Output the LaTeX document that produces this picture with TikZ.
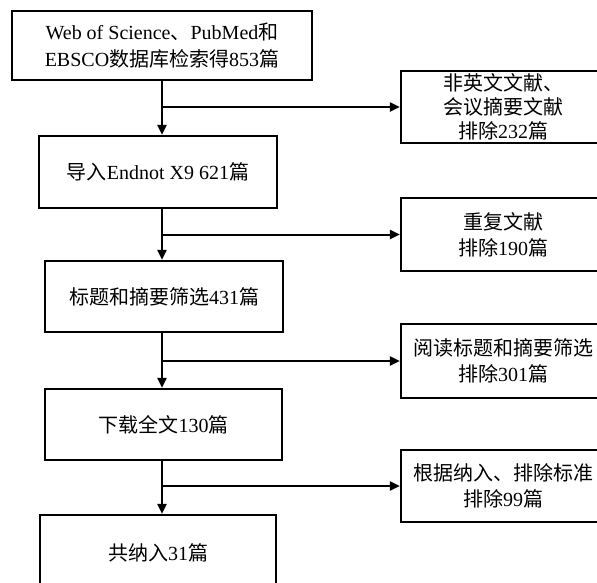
\documentclass[tikz,border=0pt]{standalone}
\usepackage{fontspec}
\setmainfont{Liberation Serif}
\newfontfamily\cjk{Noto Sans CJK SC}
\newcommand{\zh}[1]{{\cjk #1}}
\usetikzlibrary{shapes,arrows.meta,positioning,calc}
\tikzset{
	stepbox/.style={draw, line width=2.2pt, align=center, inner sep=0pt, font=\fontsize{20}{26}\selectfont},
	sidebox/.style={stepbox, minimum width=204pt},
	flow/.style={line width=2pt, -{Triangle[length=10pt,width=9pt]}}
}

\begin{document}
\begin{tikzpicture}[x=1pt,y=-1pt]
	\path[use as bounding box, clip] (0,0) rectangle (597,582);
	\coordinate (axis) at (162,0);
	\node[stepbox, minimum width=300pt, minimum height=69pt, font=\fontsize{20}{27}\selectfont] (search) at (162,45.5) {Web of Science\zh{、}PubMed\zh{和}\\EBSCO\zh{数据库检索得}853\zh{篇}};
	\node[stepbox, minimum width=238pt, minimum height=72pt] (endnote) at (158,172) {\zh{导入}Endnot X9 621\zh{篇}};
	\node[stepbox, minimum width=238pt, minimum height=71pt] (screen) at (164,296.5) {\zh{标题和摘要筛选}431\zh{篇}};
	\node[stepbox, minimum width=237pt, minimum height=71pt] (fulltext) at (163.5,424.5) {\zh{下载全文}130\zh{篇}};
	\node[stepbox, minimum width=236pt, minimum height=75pt] (included) at (158,552.5) {\zh{共纳入}31\zh{篇}};
	\node[sidebox, minimum height=72pt, font=\fontsize{20}{24}\selectfont] (nonen) at (503,107) {\zh{非英文文献、}\\\zh{会议摘要文献}\\\zh{排除}232\zh{篇}};
	\node[sidebox, minimum height=73pt] (dup) at (503,234.5) {\zh{重复文献}\\\zh{排除}190\zh{篇}};
	\node[sidebox, minimum height=74pt] (title) at (503,361) {\zh{阅读标题和摘要筛选}\\\zh{排除}301\zh{篇}};
	\node[sidebox, minimum height=72pt] (criteria) at (503,486) {\zh{根据纳入、排除标准}\\\zh{排除}99\zh{篇}};
	\draw[flow] (search.south -| axis) -- (endnote.north -| axis);
	\draw[flow] (endnote.south -| axis) -- (screen.north -| axis);
	\draw[flow] (screen.south -| axis) -- (fulltext.north -| axis);
	\draw[flow] (fulltext.south -| axis) -- (included.north -| axis);
	\draw[flow] (nonen.west -| axis) -- (nonen.west);
	\draw[flow] (dup.west -| axis) -- (dup.west);
	\draw[flow] (title.west -| axis) -- (title.west);
	\draw[flow] (criteria.west -| axis) -- (criteria.west);
\end{tikzpicture}
\end{document}
